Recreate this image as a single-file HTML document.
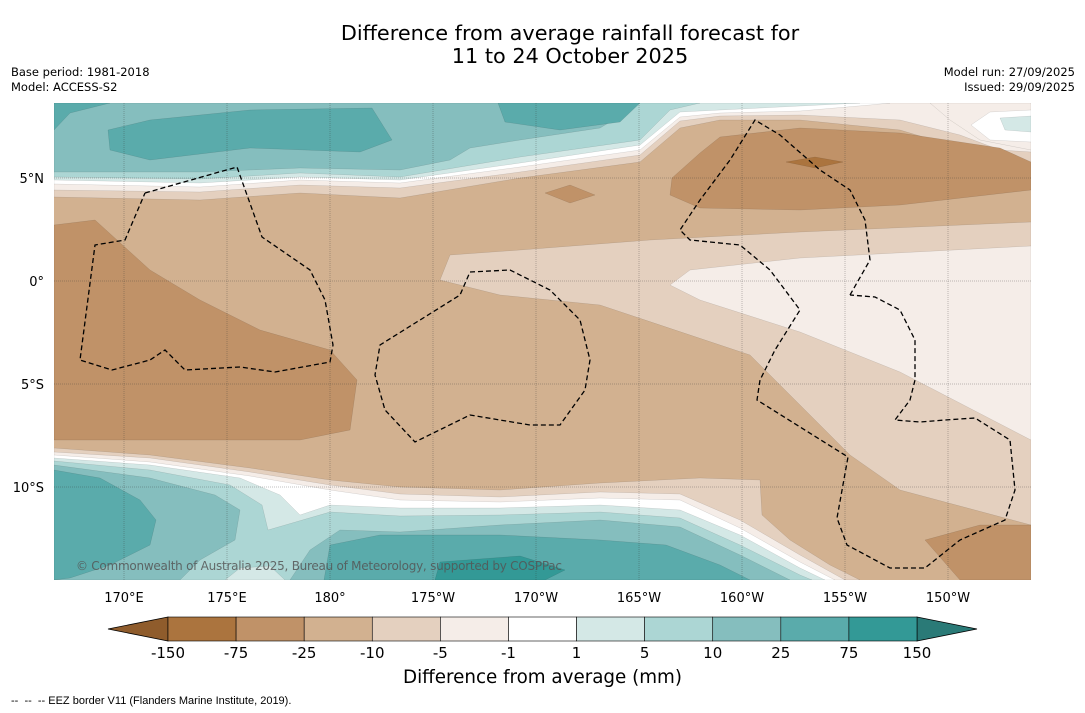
<!DOCTYPE html>
<html><head><meta charset="utf-8">
<style>
html,body{margin:0;padding:0;background:#fff;}
body{width:1085px;height:713px;position:relative;overflow:hidden;font-family:"DejaVu Sans",sans-serif;}
.t{position:absolute;white-space:nowrap;color:#000;}
</style></head>
<body>
<div class="t" style="left:0;width:1140px;text-align:center;top:22px;font-size:20.8px;line-height:23px;">Difference from average rainfall forecast for<br>11 to 24 October 2025</div>
<div class="t" style="left:11px;top:65px;font-size:11.5px;line-height:15px;">Base period: 1981-2018<br>Model: ACCESS-S2</div>
<div class="t" style="right:10px;top:65px;font-size:11.5px;line-height:15px;text-align:right;">Model run: 27/09/2025<br>Issued: 29/09/2025</div>
<svg id="map" width="1085" height="713" style="position:absolute;left:0;top:0" xmlns="http://www.w3.org/2000/svg"></svg>
<div class="t" style="left:0;width:1085px;text-align:center;top:667px;font-size:18.3px;">Difference from average (mm)</div>
<div class="t" style="left:11px;top:695px;font-size:11px;font-family:'Liberation Sans',sans-serif;">--&nbsp; --&nbsp; -- EEZ border V11 (Flanders Marine Institute, 2019).</div>
<script>
const levels = ['-150','-75','-25','-10','-5','-1','1','5','10','25','75','150'];
const bandColors = ['#ab743e','#c09268','#d2b190','#e4d0bf','#f5ede8','#ffffff','#d4e8e6','#acd6d4','#85bebe','#5aabab','#339996'];
const lonTicks = [170,175,180,185,190,195,200,205,210];
const lonLabels = ['170°E','175°E','180°','175°W','170°W','165°W','160°W','155°W','150°W'];
const latTicks = [5,0,-5,-10];
const latLabels = ['5°N','0°','5°S','10°S'];
const T=103,B=580,L=54,R=1031;
// contour regions in map pixel units [band index, points]
const shapes = [
 [3,[[440,280],[450,255],[520,250],[650,240],[800,232],[1031,222],[1031,525],[900,490],[850,455],[800,405],[750,355],[600,305],[500,295]]],
 [4,[[670,285],[690,270],[800,258],[1031,246],[1031,440],[900,372],[800,332],[700,300]]],
 [3,[[L,T],[R,T],[R,166],[1000,160],[900,130],[800,120],[720,120],[680,128],[640,162],[520,178],[400,198],[300,193],[200,200],[L,197]]],
 [4,[[L,T],[R,T],[R,152],[1000,150],[960,135],[900,120],[800,115],[720,116],[680,121],[640,155],[520,172],[400,188],[300,185],[200,192],[L,190]]],
 [5,[[L,T],[890,T],[870,105],[800,111],[720,113],[680,117],[640,150],[520,167],[400,183],[300,180],[200,187],[L,184]]],
 [6,[[L,T],[860,T],[760,108],[680,112],[640,145],[520,163],[400,180],[300,177],[200,183],[L,180]]],
 [7,[[L,T],[700,T],[670,110],[640,140],[520,157],[400,177],[300,173],[200,179],[L,177]]],
 [8,[[L,T],[640,T],[630,110],[600,128],[520,140],[470,148],[450,160],[400,170],[300,168],[200,172],[L,172]]],
 [9,[[L,130],[70,113],[110,T],[L,T]]],
 [9,[[108,130],[150,120],[250,110],[372,108],[392,140],[360,152],[250,148],[150,160],[110,150]]],
 [9,[[498,T],[640,T],[620,122],[560,130],[505,122]]],
 [4,[[930,T],[R,T],[R,150],[980,140],[950,120]]],
 [5,[[971,125],[990,112],[R,110],[R,142],[990,140]]],
 [6,[[1000,118],[R,116],[R,132],[1005,130]]],
 [1,[[L,225],[95,220],[150,270],[200,300],[260,330],[330,350],[357,380],[350,430],[300,440],[200,440],[L,440]]],
 [1,[[670,195],[672,178],[700,153],[720,137],[800,128],[900,133],[1000,148],[R,162],[R,190],[900,205],[800,210],[700,208]]],
 [1,[[545,193],[570,185],[595,195],[570,203]]],
 [1,[[925,540],[980,525],[R,525],[R,B],[960,B]]],
 [0,[[786,162],[815,157],[843,162],[815,168]]],
 [3,[[L,448],[150,455],[250,468],[330,480],[400,487],[500,490],[600,483],[700,478],[760,480],[762,515],[790,540],[830,565],[860,B],[L,B]]],
 [4,[[L,452],[150,458],[250,472],[330,485],[400,494],[500,497],[600,492],[680,494],[740,520],[800,555],[845,B],[L,B]]],
 [5,[[L,455],[150,462],[250,476],[330,490],[400,500],[500,502],[600,498],[680,500],[740,528],[800,562],[835,B],[L,B]]],
 [6,[[L,458],[150,465],[240,478],[280,495],[300,515],[330,505],[400,508],[500,508],[600,505],[680,510],[740,535],[800,568],[825,B],[L,B]]],
 [7,[[L,461],[150,470],[230,485],[262,505],[268,530],[330,512],[400,516],[500,515],[600,512],[680,518],[740,545],[800,575],[812,B],[L,B]]],
 [8,[[L,465],[150,478],[215,495],[240,510],[235,540],[200,560],[180,B],[L,B]]],
 [8,[[290,B],[310,550],[340,530],[400,532],[500,525],[600,520],[680,527],[740,555],[790,B]]],
 [9,[[L,470],[100,478],[140,500],[156,520],[150,545],[110,565],[70,578],[L,B]]],
 [9,[[324,B],[330,545],[380,535],[500,535],[600,540],[666,545],[720,565],[750,B]]],
 [10,[[440,562],[520,556],[565,570],[545,B],[435,B]]],
 [6,[[225,B],[240,568],[270,566],[285,B]]]
];
const eez = [
 [[145,193],[237,167],[262,237],[310,270],[325,300],[333,345],[330,362],[275,372],[240,367],[185,370],[165,350],[150,360],[112,370],[80,360],[95,245],[125,240],[145,193]],
 [[470,272],[510,270],[550,290],[580,320],[590,360],[585,390],[560,425],[530,425],[470,415],[415,442],[385,410],[375,375],[380,345],[460,295],[470,272]],
 [[850,295],[870,260],[865,220],[850,190],[820,170],[780,135],[755,120],[730,160],[700,200],[680,230],[690,240],[740,245],[770,270],[800,310],[775,350],[760,380],[757,400],[848,457],[837,518],[847,545],[890,568],[925,568],[960,540],[1005,520],[1015,490],[1010,440],[975,418],[945,420],[920,422],[895,420],[910,400],[915,380],[915,340],[900,310],[875,297],[850,295]]
];
const NS='http://www.w3.org/2000/svg';
const svg=document.getElementById('map');
function lonX(l){return 124+(l-170)*20.6;}
function latY(l){return 281-l*20.6;}
function mk(t,a){const e=document.createElementNS(NS,t);for(const k in a)e.setAttribute(k,a[k]);svg.appendChild(e);return e;}
function add(p,t,a){const e=document.createElementNS(NS,t);for(const k in a)e.setAttribute(k,a[k]);p.appendChild(e);return e;}
const defs=mk('defs',{});
const cp=add(defs,'clipPath',{id:'clip'});
add(cp,'rect',{x:L,y:T,width:R-L,height:B-T});
const g=mk('g',{'clip-path':'url(#clip)'});


const bg=add(g,'rect',{x:L,y:T,width:R-L,height:B-T,fill:bandColors[2]});


function pathOf(pts,close){let d='M'+pts[0][0]+','+pts[0][1];for(let i=1;i<pts.length;i++)d+='L'+pts[i][0]+','+pts[i][1];return d+(close?'Z':'');}
shapes.forEach(s=>{
 const e=add(g,'path',{d:pathOf(s[1],true),fill:bandColors[s[0]],stroke:'rgba(0,0,0,0.15)','stroke-width':0.5,'stroke-linejoin':'round'});
 
 
});
lonTicks.forEach(l=>{const e=add(g,'line',{x1:lonX(l),x2:lonX(l),y1:T,y2:B,stroke:'#333','stroke-width':0.5,opacity:0.6,'stroke-dasharray':'1,1'});
 });
latTicks.forEach(l=>{const e=add(g,'line',{x1:L,x2:R,y1:latY(l),y2:latY(l),stroke:'#333','stroke-width':0.5,opacity:0.6,'stroke-dasharray':'1,1'});
 });
eez.forEach(p=>{const e=add(g,'path',{d:pathOf(p,false),fill:'none',stroke:'#000','stroke-width':1.3,'stroke-dasharray':'5,3'});
 });
const cpy=add(g,'text',{x:76,y:570,'font-size':12,fill:'#555','fill-opacity':0.85,'font-family':'DejaVu Sans','textLength':486});
cpy.textContent='© Commonwealth of Australia 2025, Bureau of Meteorology, supported by COSPPac';

lonTicks.forEach((l,i)=>{const e=mk('text',{x:lonX(l),y:602,'font-size':13,'text-anchor':'middle','font-family':'DejaVu Sans'});e.textContent=lonLabels[i];
 });
latTicks.forEach((l,i)=>{const e=mk('text',{x:44,y:latY(l)+5,'font-size':13,'text-anchor':'end','font-family':'DejaVu Sans'});e.textContent=latLabels[i];
 });
const cbX0=168,cbX1=917,cbY=617,cbH=24,segW=(cbX1-cbX0)/bandColors.length;
const lt=mk('path',{d:`M${cbX0},${cbY}L108,${cbY+cbH/2}L${cbX0},${cbY+cbH}Z`,fill:'#8f5c2c',stroke:'#000','stroke-width':0.8});

const rt=mk('path',{d:`M${cbX1},${cbY}L977,${cbY+cbH/2}L${cbX1},${cbY+cbH}Z`,fill:'#2a7a77',stroke:'#000','stroke-width':0.8});

bandColors.forEach((c,i)=>{const e=mk('rect',{x:cbX0+i*segW,y:cbY,width:segW,height:cbH,fill:c,stroke:'#000','stroke-width':0.6});
 });
levels.forEach((l,i)=>{const e=mk('text',{x:cbX0+i*segW,y:658,'font-size':15,'text-anchor':'middle','font-family':'DejaVu Sans'});e.textContent=l;
 });
</script>
</body></html>
